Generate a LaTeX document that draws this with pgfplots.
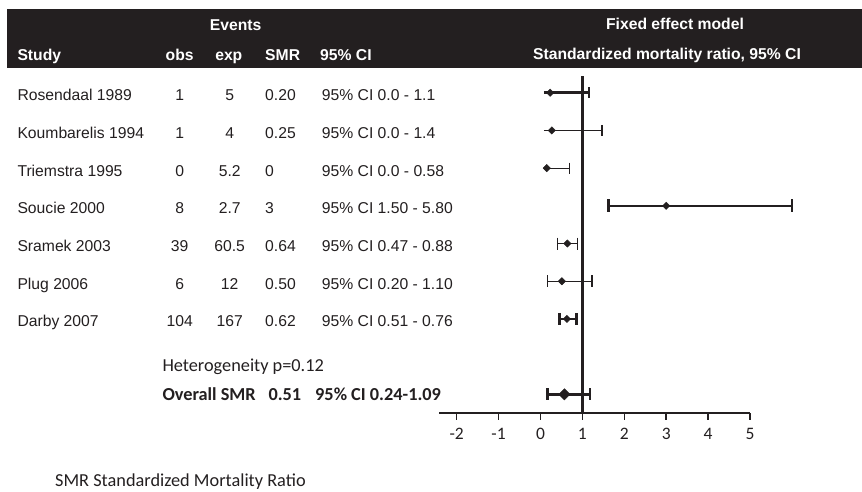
\documentclass[border=0pt]{standalone}
\usepackage{fontspec}
\setmainfont{Liberation Sans}
\newfontfamily\calibri{Carlito}
\usepackage{pgfplots}
\pgfplotsset{compat=1.18}
\definecolor{ink}{RGB}{35,31,32}

\newcommand\arialsz{\fontsize{15.7}{18}\selectfont}
\newcommand\calsz{\calibri\fontsize{18.3}{20}\selectfont}

% one table row: baseline, study, obs, exp, SMR, CI
\newcommand\tabrow[6]{%
  \node[anchor=base west] at (17.3pt,-#1pt) {#2};
  \node[anchor=base] at (179.7pt,-#1pt) {#3};
  \node[anchor=base] at (229.7pt,-#1pt) {#4};
  \node[anchor=base west] at (265pt,-#1pt) {#5};
  \node[anchor=base west] at (321.7pt,-#1pt) {#6};}

\begin{document}
\begin{tikzpicture}
\useasboundingbox (0pt,0pt) rectangle (862pt,-491pt);

% header band
\fill[ink] (7pt,-9pt) rectangle (862pt,-68pt);
\begin{scope}[every node/.style={inner sep=0pt, text=white, font=\arialsz\bfseries}]
  \node[anchor=base] at (235.7pt,-30pt) {Events};
  \node[anchor=base] at (675pt,-29.5pt) {Fixed effect model};
  \node[anchor=base west] at (17.3pt,-60pt) {Study};
  \node[anchor=base] at (179.7pt,-60pt) {obs};
  \node[anchor=base] at (228.8pt,-60pt) {exp};
  \node[anchor=base west] at (265pt,-60pt) {SMR};
  \node[anchor=base west] at (320pt,-60pt) {95\% CI};
  \node[anchor=base] at (667pt,-59pt) {Standardized mortality ratio, 95\% CI};
\end{scope}

% study table
\begin{scope}[every node/.style={inner sep=0pt, text=ink, font=\arialsz}]
  \tabrow{100.7}{Rosendaal 1989}{1}{5}{0.20}{95\% CI 0.0 - 1.1}
  \tabrow{138.4}{Koumbarelis 1994}{1}{4}{0.25}{95\% CI 0.0 - 1.4}
  \tabrow{176.1}{Triemstra 1995}{0}{5.2}{0}{95\% CI 0.0 - 0.58}
  \tabrow{213.8}{Soucie 2000}{8}{2.7}{3}{95\% CI 1.50 - 5.80}
  \tabrow{251.5}{Sramek 2003}{39}{60.5}{0.64}{95\% CI 0.47 - 0.88}
  \tabrow{289.2}{Plug 2006}{6}{12}{0.50}{95\% CI 0.20 - 1.10}
  \tabrow{326.9}{Darby 2007}{104}{167}{0.62}{95\% CI 0.51 - 0.76}
\end{scope}

\begin{scope}[every node/.style={inner sep=0pt, text=ink, font=\calsz}]
  \node[anchor=base west] at (162.3pt,-371.7pt) {Heterogeneity p=0.12};
  \node[anchor=base west, font=\calsz\bfseries] at (162.3pt,-400pt) {Overall SMR};
  \node[anchor=base west, font=\calsz\bfseries] at (268.3pt,-400pt) {0.51};
  \node[anchor=base west, font=\calsz\bfseries] at (315pt,-400pt) {95\% CI 0.24-1.09};
  \node[anchor=base west] at (55pt,-486.5pt) {SMR Standardized Mortality Ratio};
\end{scope}

\begin{axis}[
  at={(439.3pt,-412.7pt)}, anchor=south west,
  scale only axis, width=310.7pt, height=336.7pt,
  xmin=-2.415, xmax=5, ymin=-9.488, ymax=-0.557,
  clip=false,
  axis x line*=bottom, hide y axis,
  x axis line style={ink, line width=2.4pt},
  xtick={-2,-1,0,1,2,3,4,5}, ytick=\empty,
  tick align=outside, major tick length=7pt,
  tick style={ink, line width=1.6pt},
  /pgf/number format/assume math mode=true,
  xticklabel style={font=\calibri\fontsize{17.5}{17.5}\selectfont, text=ink, yshift=-5pt},
]
  % line of no effect
  \addplot[ink, line width=2.4pt] coordinates {(1,-0.557) (1,-9.488)};

  % confidence intervals
  \addplot[ink, line width=2.5pt, mark=|, mark size=5.5pt, mark indices={2}] coordinates {(0.08,-1) (1.16,-1)};
  \addplot[ink, line width=1.2pt, mark=|, mark size=5.5pt, mark indices={2}] coordinates {(0.08,-2) (1.47,-2)};
  \addplot[ink, line width=1.2pt, mark=|, mark size=5.5pt, mark indices={2}] coordinates {(0.10,-3) (0.69,-3)};
  \addplot[ink, line width=2.5pt, mark=|, mark size=6.5pt] coordinates {(1.62,-4) (6.00,-4)};
  \addplot[ink, line width=1.2pt, mark=|, mark size=6pt] coordinates {(0.40,-5) (0.88,-5)};
  \addplot[ink, line width=1.2pt, mark=|, mark size=6pt] coordinates {(0.17,-6) (1.23,-6)};
  \addplot[ink, line width=2.5pt, mark=|, mark size=6pt] coordinates {(0.45,-7) (0.86,-7)};
  \addplot[ink, line width=2.5pt, mark=|, mark size=6pt] coordinates {(0.17,-9) (1.18,-9)};

  % point estimates
  \addplot[only marks, mark=square*, mark size=2.6pt,
    mark options={rotate=45, fill=ink, draw=ink}] coordinates {
    (0.23,-1) (0.27,-2) (0.15,-3) (3.00,-4) (0.64,-5) (0.51,-6) (0.63,-7)
  };
  \addplot[only marks, mark=square*, mark size=4pt,
    mark options={rotate=45, fill=ink, draw=ink}] coordinates {(0.57,-9)};
\end{axis}
\end{tikzpicture}
\end{document}
